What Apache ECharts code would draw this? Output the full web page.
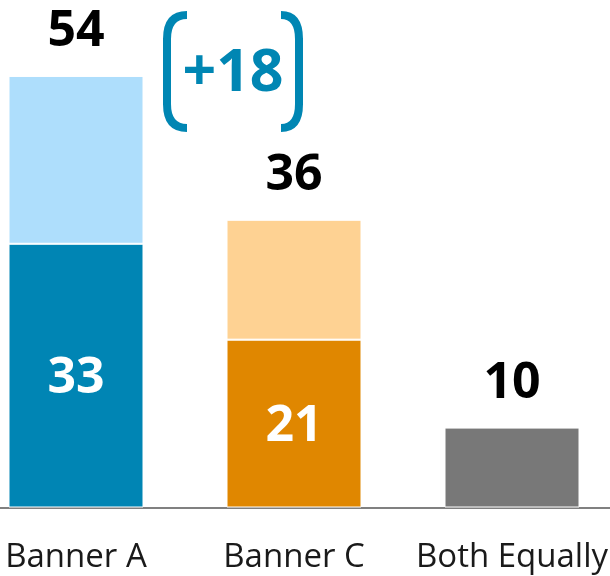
<!DOCTYPE html>
<html>
<head>
<meta charset="utf-8">
<title>Banner preference</title>
<script src="https://cdn.jsdelivr.net/npm/echarts@6/dist/echarts.min.js"></script>
<style>
  html, body { margin: 0; padding: 0; background: #ffffff; }
  #chart { width: 610px; height: 576px; }
</style>
</head>
<body>
<div id="chart"></div>
<script>
// Categories and values
var categories = ['Banner A', 'Banner C', 'Both Equally'];
var baseValues = [33, 21, 10];      // solid lower segment
var totalValues = [54, 36, 10];     // full bar height
var gapLabel = '+18';               // difference between the two banners

var FONT = '"Open Sans", "Noto Sans", sans-serif';
var ACCENT = '#0086B3';

// Upper (light) segment = total minus base
var extraValues = totalValues.map(function (t, i) { return t - baseValues[i]; });

var darkColors = ['#0085B4', '#E08700', '#787878'];
var lightColors = ['#AEDEFC', '#FED293', '#787878'];

var baseData = baseValues.map(function (v, i) {
  return {
    value: v,
    itemStyle: { color: darkColors[i] },
    label: { show: extraValues[i] > 0 }
  };
});
var extraData = extraValues.map(function (v, i) {
  return {
    value: v,
    itemStyle: { color: lightColors[i], borderWidth: v > 0 ? 1 : 0 }
  };
});

// One rounded bracket: vertical stroke plus two curved ends
function bracket(xEdge, xTip, yTop, yBot, r) {
  var st = { fill: 'none', stroke: ACCENT, lineWidth: 8 };
  return {
    type: 'group',
    children: [
      { type: 'line', shape: { x1: xEdge, y1: yTop + r - 1, x2: xEdge, y2: yBot - r + 1 }, style: st },
      { type: 'bezierCurve', shape: { x1: xTip, y1: yTop, cpx1: xEdge, cpy1: yTop, x2: xEdge, y2: yTop + r }, style: st },
      { type: 'bezierCurve', shape: { x1: xEdge, y1: yBot - r, cpx1: xEdge, cpy1: yBot, x2: xTip, y2: yBot }, style: st }
    ]
  };
}

var chart = echarts.init(document.getElementById('chart'), null, { renderer: 'canvas' });

chart.setOption({
  animation: false,
  backgroundColor: '#ffffff',
  grid: {
    left: -33, top: 28, width: 654, height: 479.5,
    containLabel: false,
    outerBoundsMode: 'none'
  },
  xAxis: {
    type: 'category',
    data: categories,
    axisLine: { show: true, lineStyle: { color: '#808080', width: 2 } },
    axisTick: { show: false },
    axisLabel: {
      color: '#1a1a1a',
      fontFamily: FONT,
      fontSize: 33,
      margin: 34,
      interval: 0
    }
  },
  yAxis: {
    type: 'value',
    min: 0,
    max: 60,
    show: false,
    splitLine: { show: false }
  },
  series: [
    {
      name: 'base',
      type: 'bar',
      stack: 'total',
      barWidth: 135,
      data: baseData,
      itemStyle: { borderColor: '#ffffff', borderWidth: 1 },
      label: {
        show: true,
        position: 'inside',
        offset: [0, 3],
        color: '#ffffff',
        fontFamily: FONT,
        fontWeight: 'bold',
        fontSize: 50
      }
    },
    {
      name: 'extra',
      type: 'bar',
      stack: 'total',
      barWidth: 135,
      data: extraData,
      itemStyle: { borderColor: '#ffffff', borderWidth: 1 },
      label: {
        show: true,
        position: 'top',
        distance: 19,
        color: '#000000',
        fontFamily: FONT,
        fontWeight: 'bold',
        fontSize: 50,
        formatter: function (p) { return String(totalValues[p.dataIndex]); }
      }
    }
  ],
  graphic: [
    {
      type: 'text',
      x: 233,
      y: 74,
      style: {
        text: gapLabel,
        fill: ACCENT,
        font: 'bold 59px ' + FONT,
        align: 'center',
        verticalAlign: 'middle'
      }
    },
    bracket(167, 187, 15, 128, 24),
    bracket(299, 281, 15, 128, 24)
  ]
});
</script>
</body>
</html>
